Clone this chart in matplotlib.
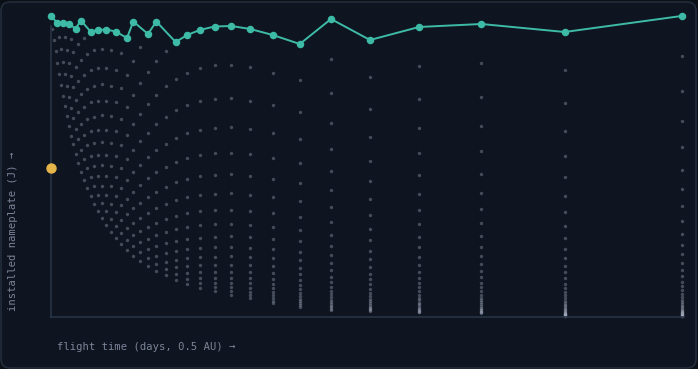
import matplotlib

matplotlib.use("Agg")
import matplotlib.pyplot as plt  # noqa: E402
from matplotlib.patches import FancyBboxPatch  # noqa: E402

# every evaluated design: one column per flight time, heights = installed nameplate
col_days = [1, 3, 4.7, 6, 8, 9.5, 11.5, 13.5, 15.7, 17.5, 19.8, 22, 24.7, 27.3, 29.9, 33, 36.4,
            39.5, 43.2, 46.7, 50.7, 55.1, 59.7, 64.6, 70.2, 76, 82.3, 89.2, 97, 105.3, 114.5,
            124.6, 136.2, 148.8, 163.6, 180.3, 199.3, 221.8, 248.8, 280, 319, 368, 430.3,
            513.7, 630.5]
col_energy = [
    [288],
    [277],
    [266],
    [294, 254],
    [280, 243],
    [268, 232],
    [294.5, 255, 221],
    [280, 243, 211],
    [267, 231.5, 201],
    [293, 254, 220, 191],
    [278, 241, 209, 181],
    [265, 230, 199, 173],
    [288.5, 250, 217, 188, 163],
    [272.7, 236, 205, 178, 154],
    [296.5, 257, 223, 193, 167.5, 145],
    [279, 242, 210, 182, 158, 137],
    [263, 228, 198, 172, 149, 129],
    [285.5, 247.5, 215, 186, 161, 140, 121],
    [267, 231, 200.5, 174, 151, 131, 113],
    [287, 249, 216, 187, 162, 141, 122, 106],
    [268, 233, 202, 175, 152, 131, 114, 99],
    [287.5, 249, 216, 187, 162.5, 141, 122, 106, 92],
    [267, 231.5, 201, 174, 151, 131, 113, 98, 85],
    [285.5, 247.5, 215, 186, 161, 140, 121, 105, 91, 79],
    [263.7, 229, 198, 172, 149, 129, 112, 97, 84, 73],
    [279, 242, 210, 182, 158, 137, 118.5, 103, 89, 77, 67],
    [295.5, 256, 222, 193, 167, 145, 125.5, 109, 94, 82, 71, 61.5],
    [270, 234, 203, 176, 152, 132, 114.5, 99, 86, 75, 65, 56],
    [283, 245, 213, 184, 160, 139, 120, 104, 90, 78, 68, 59, 51],
    [295.5, 256, 222, 193, 167, 145, 125.5, 109, 94, 82, 71, 61.5, 53, 46],
    [266, 231, 200, 173, 150, 130, 113, 98, 85, 74, 64, 55, 48, 41.6],
    [275, 238, 207, 179, 155, 135, 117, 101, 88, 76, 66, 57, 49.6, 43, 37],
    [282, 244.5, 212, 184, 159, 138, 120, 104, 90, 78, 68, 59, 51, 44, 38, 33],
    [287, 249, 216, 187, 162, 141, 122, 106, 92, 79, 69, 60, 52, 45, 39, 34, 29],
    [290.5, 252, 218, 189, 164, 142, 123, 107, 93, 80, 70, 60.5, 52, 45, 39, 34, 30, 26],
    [291, 252, 219, 190, 164, 143, 124, 107, 93, 81, 70, 61, 52.5, 45.5, 39.5, 34, 30, 26, 22],
    [288, 250, 216.5, 188, 163, 141, 122, 106, 92, 80, 69, 60, 52, 45, 39, 34, 29, 25, 22, 19],
    [282, 244.5, 212, 184, 159, 138, 120, 104, 90, 78, 68, 59, 51, 44, 38, 33, 29, 25, 21.6,
     18.7, 16.2, 14],
    [273, 237, 205, 178, 154, 134, 116, 100.5, 87, 75.6, 65.5, 57, 49, 43, 37, 32, 28, 24, 21,
     18, 15.7, 13.6, 11.8, 10.2],
    [298, 258, 224, 194, 168, 146, 127, 110, 95, 82.5, 71.5, 62, 54, 46.6, 40, 35, 30, 26, 23,
     20, 17, 15, 13, 11, 9.7, 8.4, 7.3],
    [277, 240, 208, 180.5, 156.5, 136, 118, 102, 88, 77, 66.5, 58, 50, 43, 37.6, 32.6, 28,
     24.5, 21, 18.4, 16, 13.8, 12, 10.4, 9, 7.8, 6.8, 5.9],
    [290, 251, 218, 189, 164, 142, 123, 107, 93, 80, 70, 60, 52, 45, 39, 34, 29.6, 25.6, 22,
     19.3, 16.7, 14.5, 12.6, 10.9, 9.4, 8.2, 7.1, 6.2, 5.3, 4.6],
    [293, 254, 220, 191, 166, 143.5, 124, 108, 94, 81, 70, 61, 53, 46, 40, 34.5, 30, 26, 22.5,
     19.5, 17, 14.6, 12.7, 11, 9.5, 8.3, 7.2, 6.2, 5.4, 4.7, 4],
    [285, 247, 214, 186, 161, 140, 121, 105, 91, 79, 68, 59, 51, 44.6, 38.6, 33.5, 29, 25,
     21.8, 18.9, 16.4, 14.2, 12.3, 10.7, 9.3, 8, 7, 6, 5.2, 4.5, 3.9, 3.4, 3, 2.6, 2.2, 1.9,
     1.7, 1.5, 1.3, 1.1],
    [301, 261, 226, 196, 170, 147.5, 128, 111, 96, 83, 72, 62.6, 54, 47, 41, 35, 30.7, 26.6,
     23, 20, 17.3, 15, 13, 11.3, 9.8, 8.5, 7.4, 6.4, 5.5, 4.8, 4.2, 3.6, 3.1, 2.7, 2.3, 2,
     1.8, 1.5, 1.3, 1.2, 1],
]

# frontier (teal)
best_days = [0, 6, 11.5, 17.5, 24.7, 29.9, 39.5, 46.7, 55.1, 64.6, 76, 82.3, 97, 105.3,
             124.6, 136.2, 148.8, 163.6, 180.3, 199.3, 221.8, 248.8, 280, 319, 368, 430.3,
             513.7, 630.5]
best_energy = [301.5, 294, 294.5, 293, 288.5, 296.5, 285.5, 287, 287.5, 285.5, 279, 295.5,
               283, 295.5, 275, 282, 287, 290.5, 291, 288, 282, 273, 298, 277, 290, 293,
               285, 301]

# reference point on the axis
ref_days = [0]
ref_energy = [149]

BG = "#0f1520"
EDGE = "#222c3b"
TEXT = "#7b8598"
TEAL = "#3dbba6"
GOLD = "#e5b54a"

fig = plt.figure(figsize=(6.98, 3.69), dpi=100, facecolor="#0b1017")
card = FancyBboxPatch((1, 1), 695, 366, boxstyle="round,pad=0,rounding_size=9",
                      transform=None, facecolor=BG, edgecolor=EDGE, linewidth=1.2, zorder=-10)
fig.patches.append(card)

ax = fig.add_axes([51 / 698, 52 / 369, 633 / 698, 291 / 369])
ax.set_zorder(5)
ax.set_facecolor("none")

xs, ys = [], []
for d, vals in zip(col_days, col_energy):
    xs.extend([d] * len(vals))
    ys.extend(vals)
ax.scatter(xs, ys, s=6, color="#a3acbf", alpha=0.36, linewidths=0, clip_on=False, zorder=2)

ax.plot(best_days, best_energy, color=TEAL, lw=1.4, marker="o", ms=4.4, clip_on=False, zorder=4)
ax.plot(ref_days, ref_energy, "o", color=GOLD, ms=6.5, clip_on=False, zorder=5)

ax.set_xlim(0, 633)
ax.set_ylim(0, 291)
ax.set_xticks([])
ax.set_yticks([])
for side in ("top", "right"):
    ax.spines[side].set_visible(False)
for side in ("left", "bottom"):
    ax.spines[side].set_color("#273245")
    ax.spines[side].set_linewidth(1.2)

mono = {"family": "DejaVu Sans Mono", "size": 7.6, "color": TEXT}
fig.text(57 / 698, 1 - 347 / 369, "flight time (days, 0.5 AU) →", ha="left", va="center", **mono)
fig.text(13 / 698, 1 - 311 / 369, "installed nameplate (J) →", rotation=90, ha="center",
         va="bottom", **mono)

fig.savefig("out.png", dpi=100, facecolor=fig.get_facecolor())
